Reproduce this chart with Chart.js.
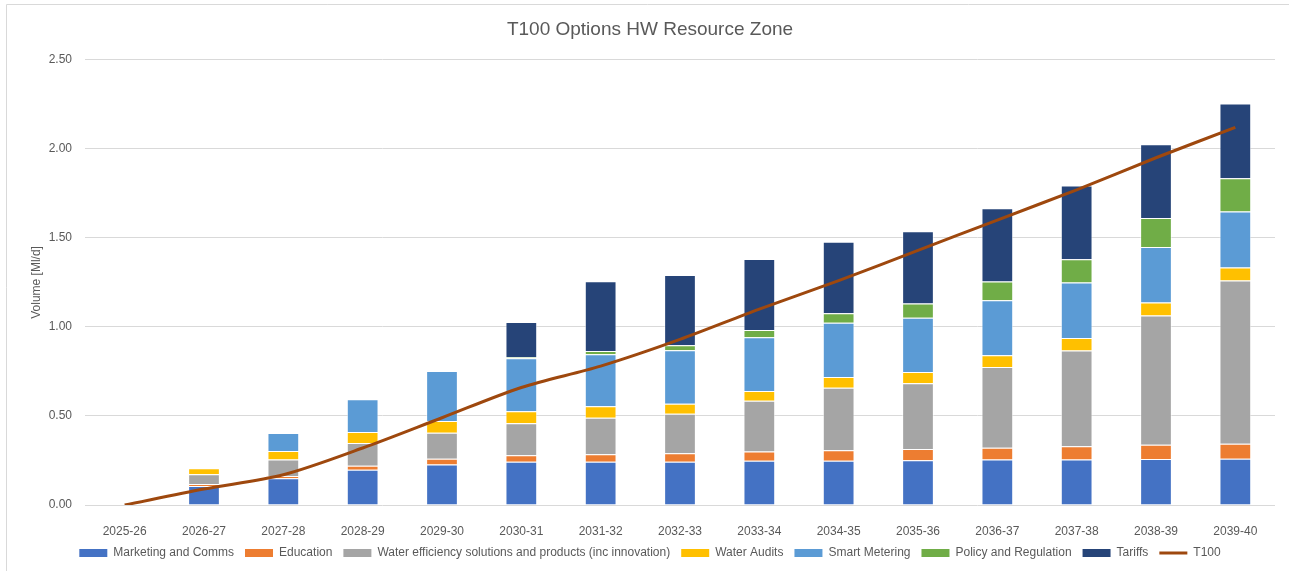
<!DOCTYPE html>
<html>
<head>
    <meta charset="UTF-8">
    <title>T100 Options HW Resource Zone</title>
    <script src="https://cdn.jsdelivr.net/npm/chart.js"></script>
    <style>
        body {
            margin: 0;
            padding: 0;
            background: #FFFFFF;
        }
        #wrap {
            width: 1289px;
            height: 571px;
            position: relative;
        }
    </style>
</head>
<body>
    <div id="wrap">
        <canvas id="t100Chart"></canvas>
    </div>

    <script>
        // data (Ml/d)
        const years = ['2025-26', '2026-27', '2027-28', '2028-29', '2029-30', '2030-31', '2031-32', '2032-33',
            '2033-34', '2034-35', '2035-36', '2036-37', '2037-38', '2038-39', '2039-40'];
        const marketing = [0, 0.107, 0.150, 0.198, 0.228, 0.243, 0.243, 0.243, 0.249, 0.249, 0.251, 0.255, 0.255, 0.258, 0.260];
        const education = [0, 0.011, 0.013, 0.023, 0.032, 0.036, 0.042, 0.047, 0.051, 0.058, 0.064, 0.067, 0.075, 0.081, 0.084];
        const waterEfficiency = [0, 0.054, 0.092, 0.127, 0.146, 0.180, 0.205, 0.223, 0.286, 0.352, 0.369, 0.453, 0.537, 0.725, 0.916];
        const waterAudits = [0, 0.034, 0.048, 0.062, 0.066, 0.067, 0.064, 0.056, 0.054, 0.060, 0.063, 0.066, 0.071, 0.073, 0.073];
        const smartMetering = [0, 0, 0.101, 0.184, 0.281, 0.298, 0.292, 0.300, 0.302, 0.305, 0.305, 0.309, 0.311, 0.312, 0.315];
        const policy = [0, 0, 0, 0, 0, 0.007, 0.019, 0.028, 0.041, 0.053, 0.079, 0.105, 0.131, 0.162, 0.187];
        const tariffs = [0, 0, 0, 0, 0, 0.197, 0.392, 0.395, 0.399, 0.401, 0.406, 0.412, 0.414, 0.415, 0.419];
        const t100 = [0, 0.09, 0.17, 0.32, 0.49, 0.66, 0.78, 0.93, 1.10, 1.26, 1.43, 1.60, 1.77, 1.95, 2.12];
        const yTicks = [0, 0.5, 1.0, 1.5, 2.0, 2.5];

        const textGrey = '#595959';
        const gridGrey = '#D9D9D9';
        Chart.defaults.font.family = '"Liberation Sans", Arial, sans-serif';
        Chart.defaults.color = textGrey;

        function barSet(label, data, color) {
            return {
                type: 'bar',
                label: label,
                data: data,
                backgroundColor: color,
                borderColor: 'rgba(255, 255, 255, 0.55)',
                borderWidth: 1,
                stack: 'options',
                order: 1
            };
        }

        // light frame like the exported chart border
        const framePlugin = {
            id: 'frame',
            beforeDraw(chart) {
                const ctx = chart.ctx;
                ctx.save();
                ctx.strokeStyle = '#D9D9D9';
                ctx.lineWidth = 1;
                ctx.beginPath();
                ctx.moveTo(6.5, chart.height);
                ctx.lineTo(6.5, 4.5);
                ctx.lineTo(chart.width, 4.5);
                ctx.stroke();
                ctx.restore();
            }
        };

        const ctx = document.getElementById('t100Chart').getContext('2d');
        new Chart(ctx, {
            data: {
                labels: years,
                datasets: [
                    barSet('Marketing and Comms', marketing, '#4472C4'),
                    barSet('Education', education, '#ED7D31'),
                    barSet('Water efficiency solutions and products (inc innovation)', waterEfficiency, '#A5A5A5'),
                    barSet('Water Audits', waterAudits, '#FFC000'),
                    barSet('Smart Metering', smartMetering, '#5B9BD5'),
                    barSet('Policy and Regulation', policy, '#70AD47'),
                    barSet('Tariffs', tariffs, '#264478'),
                    {
                        type: 'line',
                        label: 'T100',
                        data: t100,
                        borderColor: '#9E480E',
                        backgroundColor: '#9E480E',
                        borderWidth: 3,
                        pointRadius: 0,
                        tension: 0.3,
                        order: 0
                    }
                ]
            },
            options: {
                responsive: true,
                maintainAspectRatio: false,
                animation: false,
                datasets: {
                    bar: {
                        categoryPercentage: 1,
                        barPercentage: 0.4
                    }
                },
                layout: {
                    padding: { left: 25, right: 14, top: 8, bottom: 2 }
                },
                plugins: {
                    title: {
                        display: true,
                        text: 'T100 Options HW Resource Zone',
                        color: textGrey,
                        font: { size: 19, weight: 'normal' },
                        padding: { top: 10, bottom: 19 }
                    },
                    legend: {
                        position: 'bottom',
                        labels: {
                            color: textGrey,
                            font: { size: 12 },
                            usePointStyle: true,
                            pointStyleWidth: 28,
                            boxWidth: 28,
                            boxHeight: 8,
                            padding: 11,
                            sort: (a, b) => a.datasetIndex - b.datasetIndex,
                            generateLabels(chart) {
                                const items = Chart.defaults.plugins.legend.labels.generateLabels(chart);
                                return items.map(item => {
                                    const ds = chart.data.datasets[item.datasetIndex];
                                    if (ds.type === 'line') {
                                        item.pointStyle = 'line';
                                        item.lineWidth = 3;
                                        item.strokeStyle = ds.borderColor;
                                    } else {
                                        item.pointStyle = 'rect';
                                        item.lineWidth = 0;
                                        item.strokeStyle = 'rgba(0,0,0,0)';
                                    }
                                    return item;
                                });
                            }
                        }
                    },
                    tooltip: { enabled: false }
                },
                scales: {
                    x: {
                        stacked: true,
                        grid: { display: false },
                        border: { display: false },
                        ticks: {
                            color: textGrey,
                            font: { size: 12 },
                            padding: 11,
                            maxRotation: 0
                        },
                        afterFit(scale) {
                            scale.height = 31;
                        }
                    },
                    y: {
                        stacked: true,
                        min: 0,
                        max: 2.5,
                        grid: {
                            color: gridGrey,
                            drawTicks: false
                        },
                        border: { display: false },
                        afterBuildTicks(scale) {
                            scale.ticks = yTicks.map(v => ({ value: v }));
                        },
                        ticks: {
                            color: textGrey,
                            font: { size: 12 },
                            padding: 13,
                            callback: v => Number(v).toFixed(2)
                        },
                        title: {
                            display: true,
                            text: 'Volume [Ml/d]',
                            color: textGrey,
                            font: { size: 12 },
                            padding: { top: 4, bottom: 4 }
                        },
                        afterFit(scale) {
                            scale.width = 60;
                        }
                    }
                }
            },
            plugins: [framePlugin]
        });
    </script>
</body>
</html>
